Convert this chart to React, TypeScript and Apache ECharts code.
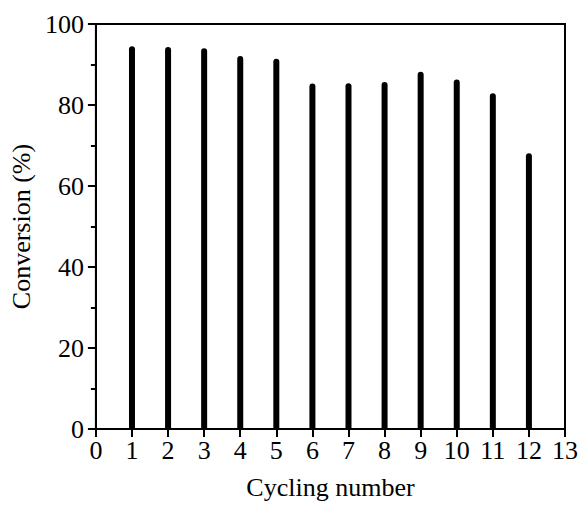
import React, { useEffect, useRef } from "react";
import * as echarts from "echarts";

const cycles = [1, 2, 3, 4, 5, 6, 7, 8, 9, 10, 11, 12];
const conversion = [94.5, 94.3, 94.0, 92.1, 91.4, 85.3, 85.4, 85.7, 88.2, 86.3, 82.9, 68.1];
const xTitle = "Cycling number";
const yTitle = "Conversion (%)";

const FONT = "'Liberation Serif', 'Times New Roman', serif";

export default function App() {
  const ref = useRef<HTMLDivElement>(null);
  useEffect(() => {
    if (!ref.current) return;
    const chart = echarts.init(ref.current, undefined, { renderer: "svg" });
    chart.setOption({
      animation: false,
      backgroundColor: "#fff",
      grid: {
        left: 93,
        right: 15,
        top: 24,
        bottom: 73,
        show: true,
        borderColor: "#000",
        borderWidth: 2,
        backgroundColor: "transparent",
      },
      xAxis: {
        type: "value",
        min: 0,
        max: 13,
        interval: 1,
        name: xTitle,
        nameLocation: "middle",
        nameGap: 45,
        nameTextStyle: { fontFamily: FONT, fontSize: 26, color: "#000" },
        axisLine: { show: true, onZero: false, lineStyle: { color: "#000", width: 2 } },
        axisTick: { show: true, inside: false, length: 8, lineStyle: { color: "#000", width: 2 } },
        axisLabel: { fontFamily: FONT, fontSize: 26, color: "#000", margin: 8 },
        splitLine: { show: false },
      },
      yAxis: {
        type: "value",
        min: 0,
        max: 100,
        interval: 20,
        name: yTitle,
        nameLocation: "middle",
        nameGap: 57,
        nameTextStyle: { fontFamily: FONT, fontSize: 26, color: "#000" },
        axisLine: { show: true, onZero: false, lineStyle: { color: "#000", width: 2 } },
        axisTick: { show: true, inside: false, length: 8, lineStyle: { color: "#000", width: 2 } },
        minorTick: { show: true, splitNumber: 2, length: 5, lineStyle: { color: "#000", width: 2 } },
        axisLabel: { fontFamily: FONT, fontSize: 26, color: "#000", margin: 12 },
        splitLine: { show: false },
      },
      series: [
        {
          type: "bar",
          data: cycles.map((c, i) => [c, conversion[i]]),
          barWidth: 6,
          itemStyle: { color: "#000", borderRadius: [3, 3, 0, 0] },
        },
      ],
    });
    return () => chart.dispose();
  }, []);
  return <div ref={ref} style={{ width: 581, height: 505, position: "absolute", left: 0, top: 0 }} />;
}
